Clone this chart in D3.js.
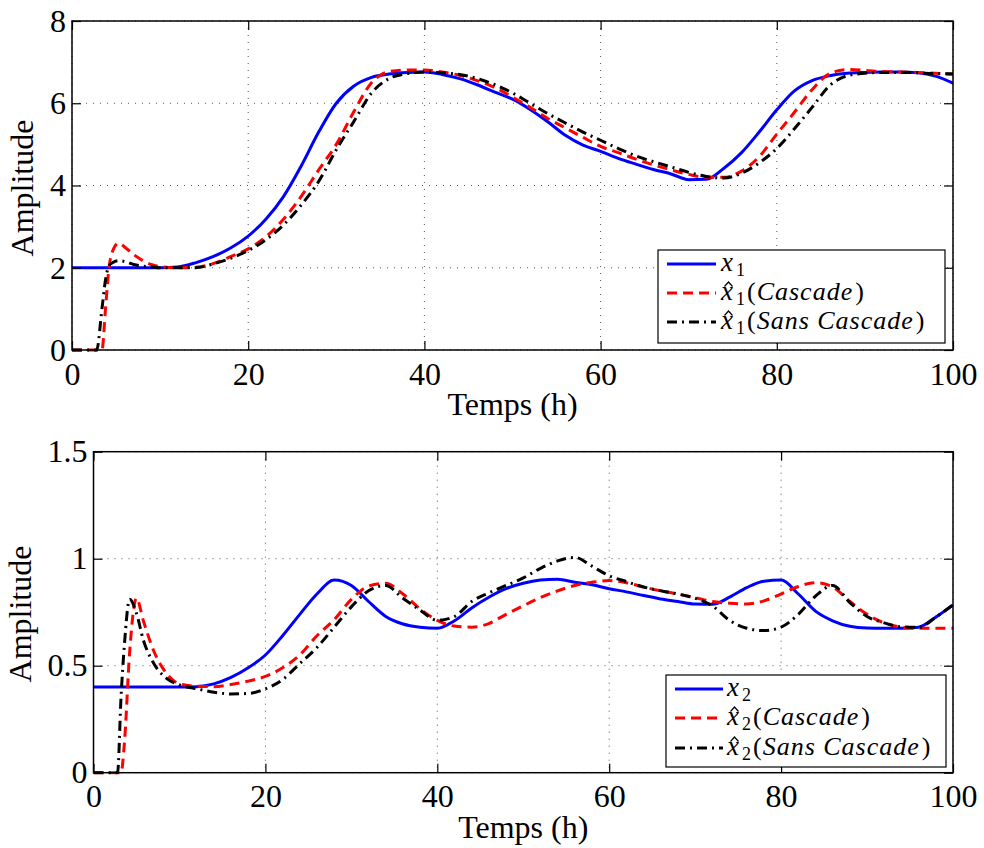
<!DOCTYPE html>
<html>
<head>
<meta charset="utf-8">
<script src="https://cdn.jsdelivr.net/npm/d3@7"></script>
<style>
  body { margin: 0; background: #fff; }
  svg { display: block; }
  svg text { font-family: "Liberation Serif", "Times New Roman", "DejaVu Serif", serif; }
</style>
</head>
<body>
<svg id="chart" width="984" height="848"></svg>
<script>
// ---------------- DATA ----------------
const xTickValues = [0, 20, 40, 60, 80, 100];
const xTickLabels = ["0", "20", "40", "60", "80", "100"];
const y1TickValues = [0, 2, 4, 6, 8];
const y1TickLabels = ["0", "2", "4", "6", "8"];
const y2TickValues = [0, 0.5, 1, 1.5];
const y2TickLabels = ["0", "0.5", "1", "1.5"];

const time1 = [0, 2.8, 3.4, 3.8, 4.2, 4.6, 5.3, 6, 7, 8, 9, 10,
  12, 14, 16, 18, 20, 22, 24, 26, 28, 30, 32, 34, 36, 38, 40, 42, 44, 46, 48, 50,
  52, 54, 56, 58, 60, 62, 64, 66, 68, 70, 72, 74, 76, 78, 80, 82, 84, 86, 88, 90,
  92, 94, 96, 98, 100];
const x1 = [2, 2, 2, 2, 2, 2, 2, 2, 2, 2, 2, 2,
  2.02, 2.12, 2.27, 2.48, 2.77, 3.18, 3.73, 4.47, 5.3, 6.0, 6.42, 6.63, 6.71, 6.75, 6.76, 6.7, 6.6, 6.45, 6.27, 6.1,
  5.85, 5.55, 5.22, 4.98, 4.83, 4.66, 4.52, 4.39, 4.28, 4.14, 4.15, 4.42, 4.8, 5.3, 5.84, 6.3, 6.55, 6.67, 6.73, 6.75,
  6.76, 6.76, 6.74, 6.66, 6.49];
const x1Cascade = [0, 0, 0, 1.0, 2.0, 2.4, 2.6, 2.5, 2.32, 2.18, 2.08, 2.03,
  2.0, 2.01, 2.1, 2.27, 2.46, 2.75, 3.18, 3.73, 4.38, 5.0, 5.8, 6.5, 6.77, 6.81, 6.81, 6.76, 6.68, 6.55, 6.38, 6.15,
  5.9, 5.63, 5.4, 5.17, 4.95, 4.8, 4.64, 4.5, 4.38, 4.27, 4.2, 4.2, 4.35, 4.7, 5.25, 5.78, 6.33, 6.72, 6.82, 6.8,
  6.77, 6.76, 6.75, 6.73, 6.7];
const x1SansCascade = [0, 0, 1.0, 1.7, 2.05, 2.12, 2.17, 2.15, 2.08, 2.04, 2.02, 2.0,
  2.0, 2.0, 2.09, 2.23, 2.42, 2.68, 3.04, 3.52, 4.1, 4.87, 5.56, 6.25, 6.6, 6.72, 6.76, 6.74, 6.7, 6.6, 6.45, 6.25,
  6.0, 5.75, 5.52, 5.3, 5.1, 4.9, 4.72, 4.58, 4.45, 4.32, 4.22, 4.18, 4.3, 4.55, 4.9, 5.38, 5.9, 6.43, 6.67, 6.73,
  6.75, 6.75, 6.74, 6.72, 6.72];

const time2 = [0, 2.8, 3.2, 3.6, 4.2, 5, 5.8, 7, 8.5, 10,
  12, 14, 16, 18, 20, 22, 24, 26, 28, 30, 32, 34, 36, 38, 40, 42, 44, 46, 48, 50,
  52, 54, 56, 58, 60, 62, 64, 66, 68, 70, 72, 74, 76, 78, 80, 82, 84, 86, 88, 90,
  92, 94, 96, 98, 100];
const x2 = [0.4, 0.4, 0.4, 0.4, 0.4, 0.4, 0.4, 0.4, 0.4, 0.4,
  0.402, 0.415, 0.445, 0.49, 0.55, 0.64, 0.74, 0.835, 0.9, 0.875, 0.8, 0.73, 0.695, 0.68, 0.675, 0.71, 0.77, 0.82, 0.86, 0.885,
  0.9, 0.904, 0.89, 0.878, 0.86, 0.845, 0.828, 0.812, 0.8, 0.788, 0.787, 0.82, 0.865, 0.895, 0.9, 0.835, 0.755, 0.71, 0.684, 0.676,
  0.675, 0.675, 0.68, 0.727, 0.784];
const x2Cascade = [0, 0, 0, 0.14, 0.56, 0.815, 0.71, 0.57, 0.464, 0.415,
  0.404, 0.402, 0.412, 0.428, 0.45, 0.49, 0.55, 0.64, 0.715, 0.81, 0.872, 0.885, 0.835, 0.765, 0.712, 0.685, 0.68, 0.697, 0.74, 0.78,
  0.818, 0.85, 0.875, 0.89, 0.898, 0.888, 0.868, 0.85, 0.835, 0.818, 0.8, 0.792, 0.788, 0.803, 0.835, 0.87, 0.888, 0.868, 0.8, 0.74,
  0.7, 0.68, 0.675, 0.675, 0.675];
const x2SansCascade = [0, 0, 0.35, 0.6, 0.81, 0.745, 0.62, 0.511, 0.441, 0.41,
  0.392, 0.376, 0.368, 0.37, 0.392, 0.435, 0.51, 0.585, 0.68, 0.775, 0.85, 0.875, 0.815, 0.76, 0.712, 0.73, 0.8, 0.84, 0.875, 0.91,
  0.955, 0.99, 1.006, 0.965, 0.92, 0.893, 0.868, 0.85, 0.835, 0.815, 0.78, 0.712, 0.675, 0.664, 0.68, 0.74, 0.825, 0.875, 0.795, 0.73,
  0.7, 0.682, 0.679, 0.727, 0.784];

const seriesStyles = [
  { color: "#0000ff", dash: null },
  { color: "#ff0000", dash: "10,6" },
  { color: "#000000", dash: "10,5,2,5" }
];

// ---------------- DRAW ----------------
const svg = d3.select("#chart");

function panel(cfg) {
  const g = svg.append("g");
  const x = d3.scaleLinear().domain([0, 100]).range([cfg.left, cfg.right]);
  const y = d3.scaleLinear().domain(cfg.yDomain).range([cfg.bottom, cfg.top]);

  // grid (dotted)
  const grid = g.append("g").attr("stroke", "#555").attr("stroke-width", 1)
    .attr("stroke-dasharray", "1,6");
  grid.selectAll("line.gx").data(xTickValues).join("line")
    .attr("x1", d => x(d)).attr("x2", d => x(d))
    .attr("y1", cfg.top).attr("y2", cfg.bottom);
  grid.selectAll("line.gy").data(cfg.yTicks).join("line")
    .attr("class", "gy")
    .attr("x1", cfg.left).attr("x2", cfg.right)
    .attr("y1", d => y(d)).attr("y2", d => y(d));

  // clip
  const clipId = "clip" + cfg.id;
  svg.append("clipPath").attr("id", clipId).append("rect")
    .attr("x", cfg.left).attr("y", cfg.top - 2)
    .attr("width", cfg.right - cfg.left).attr("height", cfg.bottom - cfg.top + 4);

  // series lines
  const line = d3.line().x(d => x(d[0])).y(d => y(d[1])).curve(d3.curveMonotoneX);
  const lines = g.append("g").attr("clip-path", `url(#${clipId})`);
  cfg.series.forEach((s, i) => {
    const pts = cfg.time.map((t, k) => [t, s[k]]);
    lines.append("path").datum(pts)
      .attr("d", line)
      .attr("fill", "none")
      .attr("stroke", seriesStyles[i].color)
      .attr("stroke-width", 3)
      .attr("stroke-dasharray", seriesStyles[i].dash)
      .attr("stroke-linejoin", "round");
  });

  // axes
  const styleAxis = (sel) => {
    sel.attr("font-family", null).attr("font-size", null);
    sel.select(".domain").remove();
    sel.selectAll(".tick line").attr("stroke", "#000").attr("stroke-width", 1.2);
    sel.selectAll(".tick text").attr("fill", "#000").attr("font-size", 32);
  };
  g.append("g").attr("transform", `translate(0,${cfg.bottom})`)
    .call(d3.axisBottom(x).tickValues(xTickValues)
      .tickFormat((d, i) => xTickLabels[i]).tickSizeInner(-9).tickSizeOuter(0).tickPadding(12))
    .call(styleAxis);
  g.append("g").attr("transform", `translate(0,${cfg.top})`)
    .call(d3.axisTop(x).tickValues(xTickValues).tickFormat("").tickSizeInner(-9).tickSizeOuter(0))
    .call(styleAxis);
  g.append("g").attr("transform", `translate(${cfg.left},0)`)
    .call(d3.axisLeft(y).tickValues(cfg.yTicks)
      .tickFormat((d, i) => cfg.yLabels[i]).tickSizeInner(-9).tickSizeOuter(0).tickPadding(6))
    .call(styleAxis);
  g.append("g").attr("transform", `translate(${cfg.right},0)`)
    .call(d3.axisRight(y).tickValues(cfg.yTicks).tickFormat("").tickSizeInner(-9).tickSizeOuter(0))
    .call(styleAxis);

  // box
  g.append("rect").attr("x", cfg.left).attr("y", cfg.top)
    .attr("width", cfg.right - cfg.left).attr("height", cfg.bottom - cfg.top)
    .attr("fill", "none").attr("stroke", "#000").attr("stroke-width", 1.5);

  // axis titles
  g.append("text").attr("x", (cfg.left + cfg.right) / 2).attr("y", cfg.bottom + 65)
    .attr("text-anchor", "middle").attr("font-size", 32)
    .text("Temps (h)");
  g.append("text")
    .attr("transform", `translate(${cfg.ylabelX},${cfg.ylabelY}) rotate(-90)`)
    .attr("text-anchor", "middle").attr("font-size", 32)
    .text("Amplitude");

  // legend
  const L = cfg.legend;
  const lg = g.append("g");
  lg.append("rect").attr("x", L.x0).attr("y", L.y0)
    .attr("width", L.x1 - L.x0).attr("height", L.y1 - L.y0)
    .attr("fill", "#fff").attr("stroke", "#000").attr("stroke-width", 1.2);
  L.labels.forEach((lab, i) => {
    const yy = L.rows[i];
    lg.append("line").attr("x1", L.lx0).attr("x2", L.lx1).attr("y1", yy).attr("y2", yy)
      .attr("stroke", seriesStyles[i].color).attr("stroke-width", 3)
      .attr("stroke-dasharray", seriesStyles[i].dash);
    let cx = L.tx;
    const base = yy + 7;
    const piece = (str, size, italic, dy, gap) => {
      const t = lg.append("text").attr("x", cx).attr("y", base + dy)
        .attr("font-size", size).attr("font-style", italic ? "italic" : "normal")
        .attr("letter-spacing", 1).text(str);
      const w = t.node().getComputedTextLength();
      const startX = cx;
      cx += w + gap;
      return { node: t.node(), startX, w };
    };
    const xp = piece("x", 27, true, 0, 2);
    piece(lab.sub, 18, false, 5, 1);
    if (lab.paren) {
      piece("(", 26, false, 0, 0);
      piece(lab.paren, 26, true, 0, 2);
      piece(")", 26, false, 0, 0);
    }
    if (lab.hat) {
      const hx = xp.startX + xp.w / 2 + 1;
      const top = base - 18;
      lg.append("path")
        .attr("d", `M${hx - 4},${top + 4.5}L${hx},${top}L${hx + 4},${top + 4.5}`)
        .attr("fill", "none").attr("stroke", "#000").attr("stroke-width", 1.2);
    }
  });
}

panel({
  id: 1, left: 72, right: 953, top: 21, bottom: 350,
  yDomain: [0, 8], yTicks: y1TickValues, yLabels: y1TickLabels,
  time: time1, series: [x1, x1Cascade, x1SansCascade],
  ylabelX: 33, ylabelY: 188,
  legend: {
    x0: 658, x1: 945, y0: 250, y1: 343, rows: [264, 293, 322],
    lx0: 667, lx1: 716, tx: 721,
    labels: [{ sub: "1" }, { sub: "1", hat: true, paren: "Cascade" }, { sub: "1", hat: true, paren: "Sans Cascade" }]
  }
});
panel({
  id: 2, left: 93.5, right: 953, top: 451.7, bottom: 772.7,
  yDomain: [0, 1.5], yTicks: y2TickValues, yLabels: y2TickLabels,
  time: time2, series: [x2, x2Cascade, x2SansCascade],
  ylabelX: 31, ylabelY: 614,
  legend: {
    x0: 666, x1: 946, y0: 675, y1: 767, rows: [689, 718, 748],
    lx0: 675, lx1: 723, tx: 727,
    labels: [{ sub: "2" }, { sub: "2", hat: true, paren: "Cascade" }, { sub: "2", hat: true, paren: "Sans Cascade" }]
  }
});
</script>
</body>
</html>
